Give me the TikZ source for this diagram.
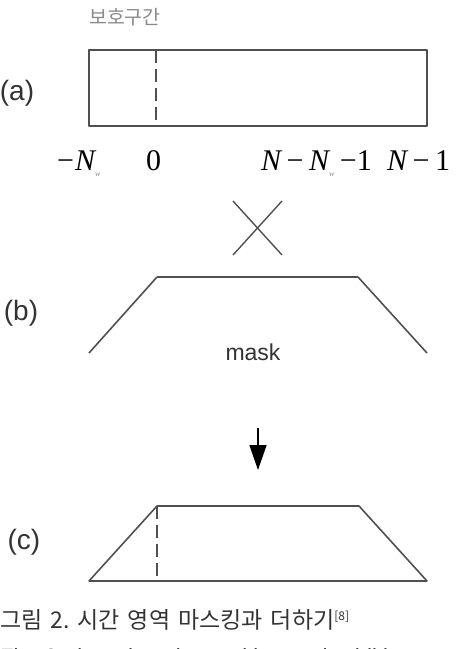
\documentclass[tikz,border=0pt]{standalone}
\usepackage{fontspec}
\setmainfont{Liberation Sans}
\newfontfamily\kr{Noto Sans CJK KR}
\newfontfamily\tms{Liberation Serif}
\usetikzlibrary{arrows.meta}
\definecolor{ln}{HTML}{505050}
\definecolor{tx}{HTML}{333333}
\definecolor{gtx}{HTML}{8A8A8A}
\tikzset{
  shapeline/.style={draw=ln, line width=1.6pt, line join=round},
  dashline/.style={draw=ln, line width=1.6pt, dash pattern=on 13pt off 6pt},
  partlabel/.style={text=tx, font=\fontsize{28}{28}\selectfont, inner sep=0pt},
  mathlabel/.style={text=black, font=\tms\fontsize{30}{30}\selectfont, inner sep=0pt, anchor=base west},
  caption/.style={text=tx, font=\kr\fontsize{23}{23}\selectfont, inner sep=0pt, anchor=base west},
}
\newcommand{\wsub}{\raisebox{-6pt}{\textcolor{gtx}{\fontsize{8}{8}\selectfont\itshape w}}}
\newcommand{\gap}{\hspace{8pt}}
\newcommand{\mgap}{\hspace{5.5pt}}
\begin{document}
\begin{tikzpicture}[x=1pt, y=-1pt]
\useasboundingbox (0,0) rectangle (463,649);
% (a)
\node[text=gtx, font=\kr\fontsize{19.5}{19.5}\selectfont, inner sep=0pt] (guard) at (125,17) {보호구간};
\node[partlabel] (la) at (17,93) {(a)};
\node[shapeline, minimum width=338pt, minimum height=76pt, inner sep=0pt] (rect) at (258,88) {};
\coordinate (d1) at (156,50);
\coordinate (d2) at (156,126);
\draw[dashline] (d1) -- (d2);
\node[mathlabel] (m1) at (57,170) {−\kern1pt{\itshape N}\wsub};
\node[mathlabel] (m2) at (146,170) {0};
\node[mathlabel] (m3) at (261,170) {{\itshape N}\mgap−\mgap{\itshape N}\wsub\mgap−1};
\node[mathlabel] (m4) at (387,170) {{\itshape N}\mgap−\mgap1};
% cross
\coordinate (x1) at (233,201);
\coordinate (x2) at (282,255);
\coordinate (x3) at (282,201);
\coordinate (x4) at (233,255);
\draw[draw=ln, line width=1.4pt] (x1) -- (x2);
\draw[draw=ln, line width=1.4pt] (x3) -- (x4);
% (b)
\node[partlabel] (lb) at (21,313) {(b)};
\coordinate (b1) at (89,353);
\coordinate (b2) at (157,277);
\coordinate (b3) at (358,277);
\coordinate (b4) at (427,353);
\draw[shapeline] (b1) -- (b2);
\draw[draw=ln, line width=2.6pt] (b2) -- (b3);
\draw[shapeline] (b3) -- (b4);
\node[text=tx, font=\fontsize{23}{23}\selectfont, inner sep=0pt] (mask) at (253,352) {mask};
% arrow
\coordinate (ar1) at (258,428);
\coordinate (ar2) at (258,470);
\draw[draw=black, line width=1.5pt, -{Triangle[length=25pt, width=17pt]}] (ar1) -- (ar2);
% (c)
\node[partlabel] (lc) at (24,542) {(c)};
\coordinate (c1) at (89,581);
\coordinate (c2) at (157,506);
\coordinate (c3) at (359,506);
\coordinate (c4) at (427,581);
\coordinate (c5) at (157,581);
\draw[shapeline] (c1) -- (c2) -- (c3) -- (c4) -- cycle;
\draw[dashline] (c2) -- (c5);
% caption
\node[caption] (cap1) at (0,628) {그림\gap 2.\gap 시간\gap 영역\gap 마스킹과\gap 더하기\raisebox{8pt}{\fontsize{12}{12}\selectfont[8]}};
\node[caption, font=\fontsize{22}{22}\selectfont] (cap2) at (0,664) {Fig.\gap 2.\gap time\gap domain\gap masking\gap and\gap addition};
\end{tikzpicture}
\end{document}
